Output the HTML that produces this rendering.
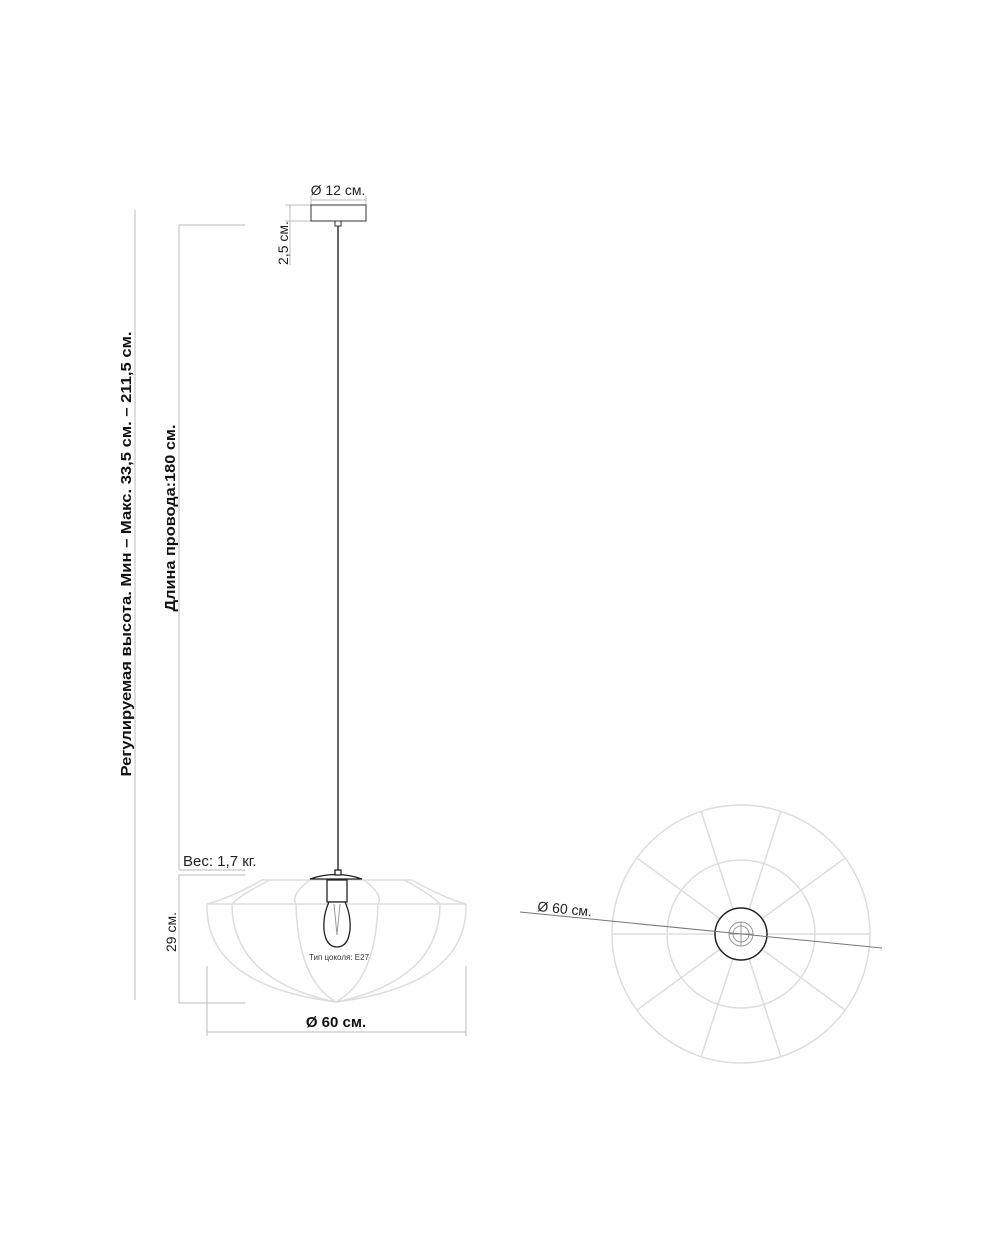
<!DOCTYPE html>
<html><head><meta charset="utf-8"><style>body{margin:0;background:#fff}svg{display:block}text{font-family:"Liberation Sans",sans-serif}</style></head><body>
<svg width="1000" height="1250" viewBox="0 0 1000 1250" xmlns="http://www.w3.org/2000/svg">
<g stroke="#bbb" stroke-width="1" fill="none">
<line x1="135" y1="210" x2="135" y2="1000"/>
<line x1="179" y1="225" x2="179" y2="870"/>
<line x1="179" y1="225" x2="245" y2="225"/>
<line x1="179" y1="870" x2="245" y2="870"/>
<line x1="179" y1="875" x2="245" y2="875"/>
<line x1="179" y1="875" x2="179" y2="1003"/>
<line x1="179" y1="1003" x2="245" y2="1003"/>
<line x1="207" y1="966" x2="207" y2="1036"/>
<line x1="466" y1="966" x2="466" y2="1036"/>
<line x1="207" y1="1032" x2="466" y2="1032"/>
<line x1="290" y1="205" x2="290" y2="265"/>
<line x1="285" y1="205" x2="311" y2="205"/>
<line x1="285" y1="221" x2="311" y2="221"/>
<line x1="311" y1="200" x2="366" y2="200"/>
<line x1="311" y1="196" x2="311" y2="205"/>
<line x1="366" y1="196" x2="366" y2="205"/>
</g>
<g stroke="#ddd" stroke-width="1.5" fill="none">
<line x1="262" y1="880" x2="412" y2="880"/>
<line x1="207" y1="904" x2="466" y2="904"/>
<path d="M262 880 Q230 898 207 904"/>
<path d="M412 880 Q444 898 466 904"/>
<path d="M207 904 Q205 985 336 1002 Q468 985 466 904"/>
<path d="M270 880 Q240 895 232 904 Q232 980 336 1002"/>
<path d="M404 880 Q432 895 440 904 Q440 980 336 1002"/>
<path d="M310 880 Q290 895 296 904 Q298 980 336 1002"/>
<path d="M364 880 Q384 895 378 904 Q376 980 336 1002"/>
</g>
<rect x="311" y="205" width="55" height="16" fill="#fff" stroke="#333" stroke-width="1"/>
<line x1="338" y1="221" x2="338" y2="872" stroke="#333" stroke-width="1.5"/>
<rect x="335" y="221" width="6" height="5" fill="#fff" stroke="#333" stroke-width="1"/>
<g stroke="#222" stroke-width="1.3" fill="#fff">
<path d="M310 879 Q336 870 362 879 Z"/>
<rect x="335" y="870" width="6" height="5"/>
<rect x="327" y="880" width="20" height="22"/>
<path d="M329 902 Q323 915 324 930 Q326 947 337 947 Q348 947 350 930 Q351 915 345 902 Z"/>
<path d="M334 904 L337 935 L340 904" stroke="#999" stroke-width="1" fill="none"/>
</g>
<g stroke="#ddd" stroke-width="1.5" fill="none">
<circle cx="741" cy="934" r="129"/>
<circle cx="741" cy="934" r="74"/>
<line x1="612" y1="934" x2="870" y2="934"/>
<g id="sp">
<line x1="741" y1="934" x2="701" y2="811"/>
<line x1="741" y1="934" x2="637" y2="858"/>
</g>
<use href="#sp" transform="matrix(-1 0 0 1 1482 0)"/>
<use href="#sp" transform="matrix(1 0 0 -1 0 1868)"/>
<use href="#sp" transform="matrix(-1 0 0 -1 1482 1868)"/>
</g>
<circle cx="741" cy="934" r="26" fill="#fff" stroke="#222" stroke-width="1.5"/>
<circle cx="741" cy="934" r="12" fill="none" stroke="#999" stroke-width="1"/>
<circle cx="741" cy="934" r="8" fill="none" stroke="#999" stroke-width="1"/>
<line x1="729" y1="934" x2="753" y2="934" stroke="#999"/>
<line x1="741" y1="922" x2="741" y2="946" stroke="#999"/>
<line x1="520" y1="912" x2="882" y2="948" stroke="#777" stroke-width="1"/>
<text x="537" y="911" font-size="14" fill="#222" transform="rotate(5.7 537 911)">Ø 60 см.</text>
<text font-size="15" font-weight="bold" fill="#111" transform="translate(131 554) rotate(-90)" text-anchor="middle" textLength="445" lengthAdjust="spacingAndGlyphs">Регулируемая высота. Мин – Макс.  33,5 см. – 211,5 см.</text>
<text font-size="15" font-weight="bold" fill="#111" transform="translate(175 518) rotate(-90)" text-anchor="middle" textLength="187" lengthAdjust="spacingAndGlyphs">Длина провода:180 см.</text>
<text font-size="14" fill="#222" transform="translate(176 932) rotate(-90)" text-anchor="middle">29 см.</text>
<text font-size="14" fill="#222" transform="translate(288 243) rotate(-90)" text-anchor="middle">2,5 см.</text>
<text x="338" y="195" font-size="14" fill="#222" text-anchor="middle">Ø 12 см.</text>
<text x="183" y="866" font-size="15" fill="#222">Вес: 1,7 кг.</text>
<text x="339" y="960" font-size="8" fill="#333" text-anchor="middle">Тип цоколя: Е27</text>
<text x="336" y="1027" font-size="15" font-weight="bold" fill="#111" text-anchor="middle">Ø 60 см.</text>
</svg>
</body></html>
